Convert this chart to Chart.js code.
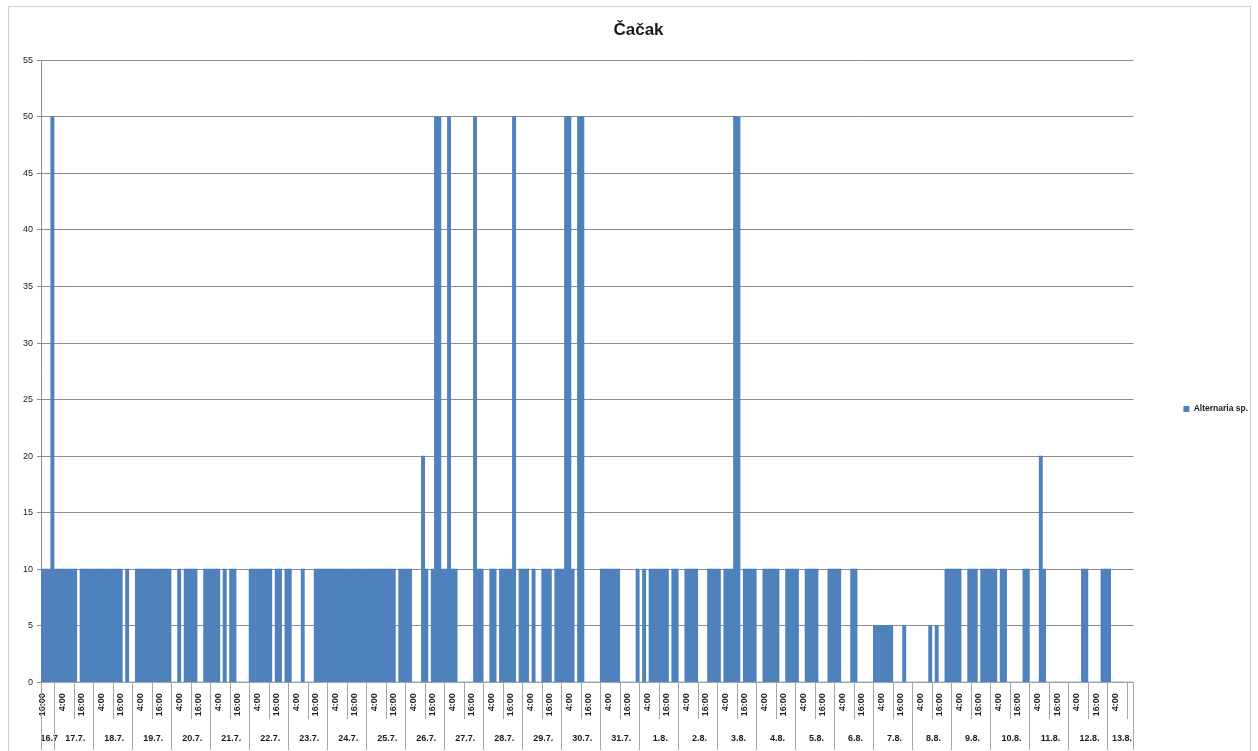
<!DOCTYPE html>
<html>
<head>
<meta charset="utf-8">
<script src="https://cdn.jsdelivr.net/npm/chart.js@4/dist/chart.umd.min.js"></script>
<style>
  html, body { margin: 0; padding: 0; background: #fff; }
  #wrap { position: relative; width: 1258px; height: 751px; overflow: hidden; }
  #frame { position: absolute; left: 8px; top: 6px; width: 1241px; height: 800px;
           border: 1px solid #cfcfcf; pointer-events: none; }
</style>
</head>
<body>
<div id="wrap">
  <canvas id="chart" width="1258" height="751"></canvas>
  <div id="frame"></div>
</div>
<script>
// dani (grupe na osi x) i termini merenja (svaka 2 sata)
const days  = ['16.7', '17.7.', '18.7.', '19.7.', '20.7.', '21.7.', '22.7.', '23.7.', '24.7.', '25.7.',
               '26.7.', '27.7.', '28.7.', '29.7.', '30.7.', '31.7.', '1.8.', '2.8.', '3.8.', '4.8.',
               '5.8.', '6.8.', '7.8.', '8.8.', '9.8.', '10.8.', '11.8.', '12.8.', '13.8.'];
const hours = ['0:00', '2:00', '4:00', '6:00', '8:00', '10:00', '12:00', '14:00', '16:00', '18:00', '20:00', '22:00'];
const shownHours = ['4:00', '16:00'];
const firstHour = 8;   // prvi termin 16.7. u 16:00

const seriesName = 'Alternaria sp.';
const spores = [
  10, 10, 10, 50,                                  // 16.7
  10, 10, 10, 10, 10, 10, 10, 0, 10, 10, 10, 10,    // 17.7
  10, 10, 10, 10, 10, 10, 10, 10, 10, 0, 10, 0,     // 18.7
  0, 10, 10, 10, 10, 10, 10, 10, 10, 10, 10, 10,    // 19.7
  0, 0, 10, 0, 10, 10, 10, 10, 0, 0, 10, 10,        // 20.7
  10, 10, 10, 0, 10, 0, 10, 10, 0, 0, 0, 0,         // 21.7
  10, 10, 10, 10, 10, 10, 10, 0, 10, 10, 0, 10,     // 22.7
  10, 0, 0, 0, 10, 0, 0, 0, 10, 10, 10, 10,         // 23.7
  10, 10, 10, 10, 10, 10, 10, 10, 10, 10, 10, 10,   // 24.7
  10, 10, 10, 10, 10, 10, 10, 10, 10, 0, 10, 10,    // 25.7
  10, 10, 0, 0, 0, 20, 10, 0, 10, 50, 50, 10,       // 26.7
  10, 50, 10, 10, 0, 0, 0, 0, 0, 50, 10, 10,        // 27.7
  0, 0, 10, 10, 0, 10, 10, 10, 10, 50, 0, 10,       // 28.7
  10, 10, 0, 10, 0, 0, 10, 10, 10, 0, 10, 10,       // 29.7
  10, 50, 50, 10, 0, 50, 50, 0, 0, 0, 0, 0,         // 30.7
  10, 10, 10, 10, 10, 10, 0, 0, 0, 0, 0, 10,        // 31.7
  0, 10, 0, 10, 10, 10, 10, 10, 10, 0, 10, 10,      // 1.8
  0, 0, 10, 10, 10, 10, 0, 0, 0, 10, 10, 10,        // 2.8
  10, 0, 10, 10, 10, 50, 50, 0, 10, 10, 10, 10,     // 3.8
  0, 0, 10, 10, 10, 10, 10, 0, 0, 10, 10, 10,       // 4.8
  10, 0, 0, 10, 10, 10, 10, 0, 0, 0, 10, 10,        // 5.8
  10, 10, 0, 0, 0, 10, 10, 0, 0, 0, 0, 0,           // 6.8
  5, 5, 5, 5, 5, 5, 0, 0, 0, 5, 0, 0,               // 7.8
  0, 0, 0, 0, 0, 5, 0, 5, 0, 0, 10, 10,             // 8.8
  10, 10, 10, 0, 0, 10, 10, 10, 0, 10, 10, 10,      // 9.8
  10, 10, 0, 10, 10, 0, 0, 0, 0, 0, 10, 10,         // 10.8
  0, 0, 0, 20, 10, 0, 0, 0, 0, 0, 0, 0,             // 11.8
  0, 0, 0, 0, 10, 10, 0, 0, 0, 0, 10, 10,           // 12.8
  10, 0, 0, 0, 0, 0, 0, 0                          // 13.8
];

const yMax = 55, yStep = 5;
const font = 'Liberation Sans';

// kategorije: dan + sat za svaki termin
const catDay = [], catHour = [], labels = [];
let d = 0, h = firstHour;
spores.forEach(() => {
  catDay.push(d); catHour.push(hours[h]);
  labels.push(days[d] + ' ' + hours[h]);
  h++;
  if (h === hours.length) { h = 0; d++; }
});

// sredina svake grupe (tu ide natpis dana)
const dayCenter = {};
days.forEach((_, k) => {
  const first = catDay.indexOf(k), last = catDay.lastIndexOf(k);
  dayCenter[Math.round((first + last + 1) / 2)] = k;
});

// okviri ispod ose (kao Excel-ova dvostruka osa)
const axisBoxes = {
  id: 'axisBoxes',
  afterDraw(chart) {
    const {ctx} = chart;
    const x = chart.scales.x, x2 = chart.scales.x2;
    const w = x.getPixelForTick(1) - x.getPixelForTick(0);
    ctx.save();
    ctx.strokeStyle = '#a6a6a6';
    ctx.lineWidth = 1;
    for (let i = 0; i <= labels.length; i++) {
      const newDay = i === 0 || i === labels.length || catDay[i] !== catDay[i - 1];
      const mid = catHour[i] === '12:00';
      if (!newDay && !mid) continue;
      const px = Math.round(x.left + i * w) + 0.5;
      ctx.beginPath();
      ctx.moveTo(px, x.top);
      ctx.lineTo(px, newDay ? x2.bottom : x.bottom);
      ctx.stroke();
    }
    ctx.restore();
  }
};

new Chart(document.getElementById('chart'), {
  type: 'bar',
  data: {
    labels: labels,
    datasets: [{
      label: seriesName,
      data: spores,
      backgroundColor: '#4f81bd',
      borderWidth: 0,
      barPercentage: 1,
      categoryPercentage: 1,
      xAxisID: 'x'
    }]
  },
  options: {
    responsive: false,
    animation: false,
    layout: { padding: { left: 19, right: 0, top: 20, bottom: 1 } },
    plugins: {
      title: {
        display: true,
        text: 'Čačak',
        color: '#1a1a1a',
        font: { family: font, size: 17, weight: 'bold' },
        padding: { top: 0, bottom: 20 }
      },
      legend: {
        position: 'right',
        title: { display: true, text: ' ', padding: { top: 37, bottom: 0 }, font: { size: 9 } },
        labels: {
          boxWidth: 6, boxHeight: 6, padding: 50,
          color: '#1a1a1a',
          font: { family: font, size: 8.5, weight: 'bold' }
        }
      },
      tooltip: { enabled: false }
    },
    scales: {
      x: {
        type: 'category',
        offset: true,
        grid: { display: false },
        border: { display: true, color: '#a6a6a6' },
        ticks: {
          autoSkip: false,
          minRotation: 90, maxRotation: 90,
          padding: 3,
          color: '#1a1a1a',
          font: { family: font, size: 9, weight: 'bold' },
          callback: (v, i) => shownHours.includes(catHour[i]) ? catHour[i] : ''
        }
      },
      x2: {
        type: 'category',
        position: 'bottom',
        labels: labels,
        offset: true,
        grid: { display: false },
        border: { display: false },
        ticks: {
          autoSkip: false,
          maxRotation: 0, minRotation: 0,
          padding: 6,
          color: '#1a1a1a',
          font: { family: font, size: 9, weight: 'bold' },
          callback: (v, i) => (i in dayCenter) ? days[dayCenter[i]] : ''
        }
      },
      y: {
        min: 0, max: yMax,
        grid: { color: '#8c8c8c', tickLength: 4 },
        border: { color: '#8c8c8c' },
        ticks: {
          stepSize: yStep,
          padding: 4,
          color: '#1a1a1a',
          font: { family: font, size: 9 }
        }
      }
    }
  },
  plugins: [axisBoxes]
});
</script>
</body>
</html>
